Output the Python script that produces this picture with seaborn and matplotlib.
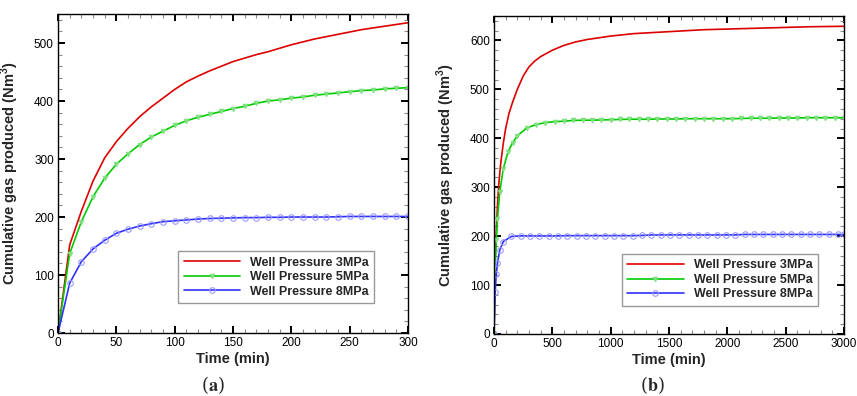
import matplotlib
matplotlib.use("Agg")
import matplotlib.pyplot as plt
import seaborn as sns
from matplotlib.ticker import MultipleLocator

# ── Data ──────────────────────────────────────────────────────────────────────
# (a) first 300 min, sampled every 10 min
time_a = list(range(0, 301, 10))
p3_a = [0, 152, 210, 262, 302, 330, 353, 373, 390, 405, 420, 433, 443, 452, 460,
        468, 474, 480, 485, 491, 497, 502, 507, 511, 515, 519, 523, 526, 529, 532, 535]
p5_a = [0, 137, 192, 235, 267, 291, 309, 325, 338, 348, 358, 366, 372, 377, 382,
        387, 391, 396, 400, 402, 405, 407, 410, 412, 414, 416, 418, 419, 421, 422, 423]
p8_a = [0, 86, 123, 145, 160, 172, 179, 184.5, 188.5, 192, 193.5, 195, 196.5, 197.5, 198,
        198.5, 199, 199, 199.5, 199.5, 200, 200, 200, 200, 200.5, 201, 201, 201, 201, 201, 201]

# (b) 3000 min
time_b_p3 = [0, 10, 20, 30, 40, 50, 60, 80, 100, 130, 160, 200, 250, 300, 350, 400,
             500, 600, 700, 800, 1000, 1200, 1500, 1800, 2100, 2400, 2700, 3000]
p3_b = [0, 152, 210, 262, 302, 330, 353, 390, 420, 452, 474, 500, 527, 546, 558, 567,
        580, 590, 597, 602, 609, 614, 618, 622, 624, 626, 628, 629]

time_b_p5 = [0, 10, 20, 30, 50, 80, 120, 160, 200, 280, 360, 440, 520, 600,
             680, 760, 840, 920, 1000, 1080, 1160, 1240, 1320, 1400, 1480, 1560, 1640,
             1720, 1800, 1880, 1960, 2040, 2120, 2200, 2280, 2360, 2440, 2520, 2600,
             2680, 2760, 2840, 2920, 3000]
p5_b = [0, 137, 192, 235, 291, 338, 372, 391, 405, 421, 428, 432, 434, 435,
        436.5, 437, 437, 437.5, 438, 438.5, 439, 439, 439, 439.5, 439.5, 439.5, 440,
        440, 440, 440, 440, 440, 440.5, 441, 441, 441, 441.5, 441.5, 441.5,
        442, 442, 442, 442, 442]

time_b_p8 = [0, 10, 20, 30, 50, 80, 150, 230, 310, 390, 470, 550, 630, 710, 790,
             870, 950, 1030, 1110, 1190, 1270, 1350, 1430, 1510, 1590, 1670, 1750,
             1830, 1910, 1990, 2070, 2150, 2230, 2310, 2390, 2470, 2550, 2630, 2710,
             2790, 2870, 2950, 3000]
p8_b = [0, 86, 123, 145, 172, 189, 199.5, 200.5, 200.5, 200.5, 200.5, 200.5, 201, 201, 201,
        201, 201, 201, 201, 201, 201.5, 202.5, 202.5, 202.5, 202.5, 202.5, 202.5,
        202.5, 202.5, 202.5, 202.5, 203.5, 203.5, 203.5, 203.5, 203.5, 203.5, 203.5, 203.5,
        203.5, 203.5, 203.5, 203.5]

labels = ["Well Pressure 3MPa", "Well Pressure 5MPa", "Well Pressure 8MPa"]

# ── Style ─────────────────────────────────────────────────────────────────────
sns.set_style("ticks")
plt.rcParams.update({
    "font.family": ["Liberation Sans", "DejaVu Sans"],
    "mathtext.fontset": "custom",
    "mathtext.rm": "Liberation Sans",
    "mathtext.bf": "Liberation Sans:bold",
    "axes.edgecolor": "black",
    "axes.linewidth": 1.0,
})

RED, GREEN, BLUE = "#dd0000", "#00cc00", "#3030ff"


def style_axes(ax, xmax, xmaj, xmin, ymax, ymaj, ymin):
    ax.set_xlim(0, xmax)
    ax.set_ylim(0, ymax)
    ax.xaxis.set_major_locator(MultipleLocator(xmaj))
    ax.xaxis.set_minor_locator(MultipleLocator(xmin))
    ax.yaxis.set_major_locator(MultipleLocator(ymaj))
    ax.yaxis.set_minor_locator(MultipleLocator(ymin))
    ax.tick_params(which="both", direction="in", top=True, right=True,
                   labelsize=8.5, colors="black")
    ax.tick_params(which="major", length=4.8, width=1.4, pad=3)
    ax.tick_params(which="minor", length=2.8, width=0.8, color="#8a8a8a")
    ax.set_xlabel("Time (min)", fontsize=10.5, fontweight="bold")
    ax.set_ylabel(r"Cumulative gas produced (Nm$^{\mathbf{3}}$)", fontsize=10.5,
                  fontweight="bold")
    ax.xaxis.set_label_coords(0.5, -0.06)
    ax.yaxis.set_label_coords(-0.106, 0.5)


def draw(ax, series):
    (t3, v3), (t5, v5), (t8, v8) = series
    sns.lineplot(x=t3, y=v3, ax=ax, color=RED, lw=1.2, label=labels[0])
    sns.lineplot(x=t5, y=v5, ax=ax, color=GREEN, lw=1.2, marker="v", markersize=3.2,
                 mfc="#7fe07f", mec="#7fe07f", label=labels[1])
    sns.lineplot(x=t8, y=v8, ax=ax, color=BLUE, lw=1.2, marker="o", markersize=4,
                 mfc="none", mec="#9a9aff", mew=0.8, label=labels[2])


fig = plt.figure(figsize=(8.57, 3.96), dpi=100)
ax_a = fig.add_axes([0.0677, 0.159, 0.4084, 0.8056])
ax_b = fig.add_axes([0.5764, 0.1566, 0.4084, 0.803])

draw(ax_a, [(time_a, p3_a), (time_a, p5_a), (time_a, p8_a)])
draw(ax_b, [(time_b_p3, p3_b), (time_b_p5, p5_b), (time_b_p8, p8_b)])

style_axes(ax_a, 300, 50, 10, 550, 100, 20)
style_axes(ax_b, 3000, 500, 100, 650, 100, 20)

for ax, anchor in [(ax_a, (0.343, 0.257)), (ax_b, (0.365, 0.252))]:
    leg = ax.legend(loc="upper left", bbox_to_anchor=anchor,
                    prop={"weight": "bold", "size": 9}, frameon=True, fancybox=False,
                    handlelength=4.5, handletextpad=0.8, labelspacing=0.2,
                    borderpad=0.45, borderaxespad=0)
    leg.get_frame().set_edgecolor("#808080")
    leg.get_frame().set_linewidth(1.0)

fig.text(0.2485, 0.028, r"($\mathbf{a}$)", ha="center", va="center",
         fontsize=13, family="serif", math_fontfamily="stix")
fig.text(0.761, 0.028, r"($\mathbf{b}$)", ha="center", va="center",
         fontsize=13, family="serif", math_fontfamily="stix")

fig.savefig("out.png", dpi=100)
